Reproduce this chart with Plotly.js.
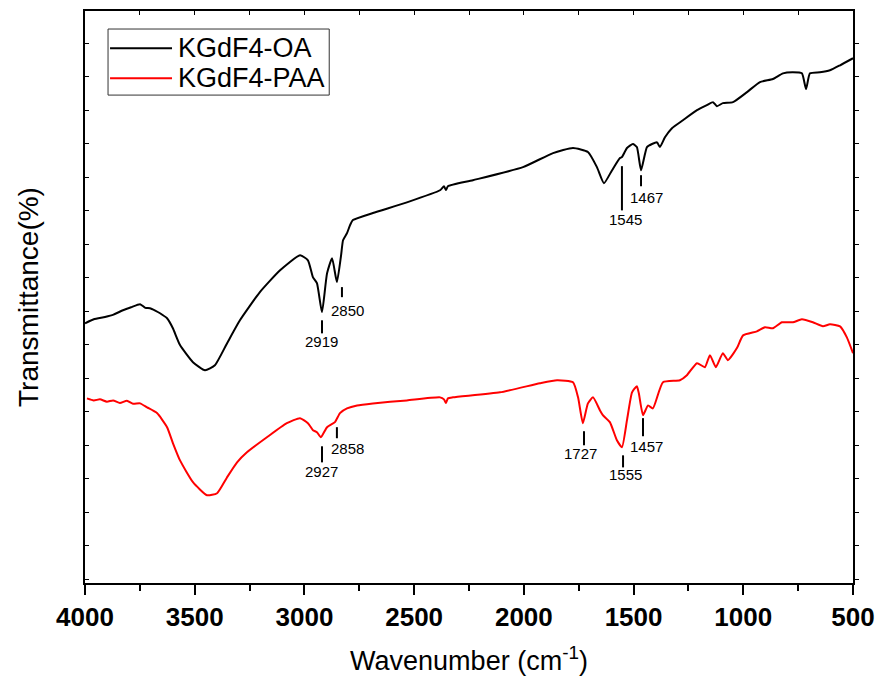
<!DOCTYPE html>
<html>
<head>
<meta charset="utf-8">
<script src="https://cdn.plot.ly/plotly-3.0.1.min.js"></script>
<style>html,body{margin:0;padding:0;background:#fff;}#chart{width:879px;height:679px;}</style>
</head>
<body>
<div id="chart"></div>
<script>
// KGdF4-OA spectrum (wavenumber cm-1, transmittance arb. units)
var oaWavenumber = [4000,3960,3909,3870,3827,3790,3749,3725,3704,3680,3658,3626,3600,3567,3508,3453,3408,3353,3294,3203,3111,3020,2984,2961,2943,2920,2897,2874,2852,2833,2824,2806,2792,2779,2688,2533,2382,2364,2355,2346,2232,2004,1867,1776,1708,1667,1635,1598,1562,1553,1530,1503,1485,1466,1439,1416,1393,1380,1357,1325,1275,1211,1166,1138,1120,1093,1047,983,924,865,819,774,733,714,696,651,605,559,500];
var oaTransmittance = [76.4,77.6,78.3,79.0,80.3,81.2,82.1,81.0,80.9,80.2,79.4,77.9,75.0,69.9,64.8,62.4,63.9,70.4,77.3,85.7,92.2,96.7,95.2,90.1,88.4,79.7,91.3,95.8,88.7,96.7,101.2,103.3,105.7,107.2,109.3,112.5,116.1,117.3,116.2,117.3,119.1,123.0,127.2,128.7,127.5,123.0,118.2,122.1,125.7,126.0,128.7,129.9,129.0,122.1,129.0,129.9,130.4,129.0,131.9,134.6,137.0,140.0,141.5,142.4,141.2,142.1,142.4,145.4,148.4,149.3,151.0,151.3,151.0,146.3,151.0,151.3,151.9,153.4,155.5];

// KGdF4-PAA spectrum
var paaWavenumber = [3991,3960,3932,3900,3872,3841,3809,3781,3749,3717,3672,3626,3599,3567,3508,3444,3398,3353,3307,3262,3171,3080,3020,2984,2961,2943,2925,2897,2861,2838,2806,2760,2688,2533,2382,2364,2355,2346,2323,2109,1927,1849,1776,1753,1731,1708,1685,1653,1640,1608,1576,1553,1530,1507,1485,1476,1457,1434,1412,1366,1289,1257,1211,1175,1152,1125,1093,1070,1029,1001,938,901,865,824,774,733,683,637,605,559,528,500];
var paaTransmittance = [54.0,53.4,53.7,53.0,53.4,52.6,53.3,52.4,52.5,51.3,49.6,45.4,40.6,35.5,29.0,25.1,25.7,30.4,34.9,37.9,42.4,46.6,48.1,46.6,44.5,43.9,42.4,45.4,46.9,49.6,51.0,51.9,52.5,53.4,54.3,53.7,52.6,54.0,54.3,55.8,58.5,59.4,58.8,54.3,46.6,52.5,54.3,50.4,49.0,46.9,41.5,39.4,47.5,55.8,57.6,55.5,49.0,51.9,51.0,58.8,59.4,60.9,64.5,63.3,66.9,63.3,67.5,65.4,69.0,72.8,74.0,75.2,74.9,76.7,76.7,77.6,76.7,75.5,76.1,75.5,72.2,67.5];

// Peak labels
var oaPeakLabels = ["2919","2850","1545","1467"];
var paaPeakLabels = ["2927","2858","1727","1555","1457"];

var seriesNames = ["KGdF4-OA","KGdF4-PAA"];
var seriesColors = ["#000000","#ff0000"];
var xTickValues = [4000,3500,3000,2500,2000,1500,1000,500];

// label geometry: [lineX, lineY0, lineY1, textX, textY]
var oaLabelGeom = [[2920,77.3,73.4,2920,71.0],[2829,87.2,84.2,2806,80.3],[1553,123.3,110.1,1535,107.3],[1466,120.6,117.3,1443,114.0]];
var paaLabelGeom = [[2920,39.7,34.9,2920,32.3],[2852,45.4,42.1,2806,39.1],[1726,44.2,40.0,1744,37.4],[1548,37.0,33.4,1539,31.4],[1457,48.1,42.7,1439,39.5]];

var font = "Liberation Sans, Arial, sans-serif";
var yr = [-1.1, 169.6];
var xr = [4000, 500];

var traces = [
  {x: oaWavenumber, y: oaTransmittance, name: seriesNames[0], type: 'scatter', mode: 'lines', line: {color: seriesColors[0], width: 2, shape: 'spline', smoothing: 0.5}},
  {x: paaWavenumber, y: paaTransmittance, name: seriesNames[1], type: 'scatter', mode: 'lines', line: {color: seriesColors[1], width: 2, shape: 'spline', smoothing: 0.5}},
  {x: [4000, 500], y: [-50, -50], xaxis: 'x2', yaxis: 'y2', mode: 'lines', line: {color: 'rgba(0,0,0,0)'}, showlegend: false, hoverinfo: 'skip'}
];

var shapes = [];
var annotations = [];
function addLabels(labels, geom) {
  for (var i = 0; i < labels.length; i++) {
    var g = geom[i];
    shapes.push({type: 'line', xref: 'x', yref: 'y', x0: g[0], x1: g[0], y0: g[1], y1: g[2], line: {color: '#000', width: 2}});
    annotations.push({xref: 'x', yref: 'y', x: g[3], y: g[4], text: labels[i], showarrow: false, font: {family: font, size: 15, color: '#000'}, xanchor: 'center', yanchor: 'middle'});
  }
}
addLabels(oaPeakLabels, oaLabelGeom);
addLabels(paaPeakLabels, paaLabelGeom);

// legend box drawn in paper coordinates
shapes.push({type: 'rect', xref: 'paper', yref: 'paper', x0: 0.030, x1: 0.318, y0: 0.853, y1: 0.9685, line: {color: '#333', width: 1}, fillcolor: '#fff', layer: 'above'});
var legendRowsY = [0.935, 0.8825];
for (var k = 0; k < seriesNames.length; k++) {
  shapes.push({type: 'line', xref: 'paper', yref: 'paper', x0: 0.0326, x1: 0.1133, y0: legendRowsY[k], y1: legendRowsY[k], line: {color: seriesColors[k], width: 2}, layer: 'above'});
  annotations.push({xref: 'paper', yref: 'paper', x: 0.119, y: legendRowsY[k], text: seriesNames[k], showarrow: false, xanchor: 'left', yanchor: 'middle', font: {family: font, size: 27, color: '#000'}});
}

var layout = {
  width: 879, height: 679,
  margin: {l: 85, r: 26, t: 11, b: 96},
  paper_bgcolor: '#fff', plot_bgcolor: '#fff',
  showlegend: false,
  xaxis: {range: xr, tickvals: xTickValues, ticktext: xTickValues.map(String), ticks: 'outside', ticklen: 10, tickwidth: 2, tickcolor: '#000',
          minor: {dtick: 250, tick0: 0, ticks: 'outside', ticklen: 6, tickwidth: 2, tickcolor: '#000'},
          showline: true, linewidth: 2, linecolor: '#000', mirror: false, showgrid: false, zeroline: false,
          tickfont: {family: font, size: 26, color: '#000', weight: 'bold'},
          title: {text: 'Wavenumber (cm<sup>-1</sup>)', font: {family: font, size: 27, color: '#000'}, standoff: 20}},
  xaxis2: {range: xr, overlaying: 'x', side: 'top', ticks: 'inside', dtick: 250, tick0: 0, ticklen: 4, tickwidth: 1, tickcolor: '#000',
           showticklabels: false, showline: true, linewidth: 2, linecolor: '#000', showgrid: false, zeroline: false},
  yaxis: {range: yr, ticks: 'inside', dtick: 10, tick0: 0, ticklen: 4, tickwidth: 1, tickcolor: '#000', showticklabels: false,
          showline: true, linewidth: 2, linecolor: '#000', showgrid: false, zeroline: false,
          title: {text: 'Transmittance(%)', font: {family: font, size: 28, color: '#000'}, standoff: 36}},
  yaxis2: {range: yr, overlaying: 'y', side: 'right', ticks: 'outside', dtick: 10, tick0: 0, ticklen: 4, tickwidth: 1, tickcolor: '#000',
           showticklabels: false, showline: true, linewidth: 2, linecolor: '#000', showgrid: false, zeroline: false},
  shapes: shapes,
  annotations: annotations
};

Plotly.newPlot('chart', traces, layout, {displayModeBar: false, staticPlot: true});
</script>
</body>
</html>
